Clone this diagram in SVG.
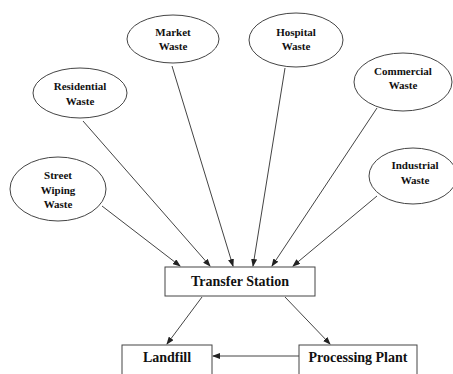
<svg xmlns="http://www.w3.org/2000/svg" width="453" height="374" viewBox="0 0 453 374">
<defs>
<marker id="ah" markerWidth="8" markerHeight="6" refX="7" refY="3" orient="auto" markerUnits="userSpaceOnUse">
<path d="M0,0 L8,3 L0,6 Z" fill="#222"/>
</marker>
<style>
.n{fill:#fff;stroke:#444;stroke-width:1}
.t{font-family:"Liberation Serif",serif;font-weight:bold;font-size:11px;fill:#111;text-anchor:middle}
.b{font-size:14px}
.c{stroke:#444;stroke-width:1;fill:none;marker-end:url(#ah)}
</style>
</defs>
<rect width="453" height="374" fill="#fff"/>
<g id="connectors">
<line class="c" x1="102" y1="206" x2="180" y2="266"/>
<line class="c" x1="83" y1="121" x2="210" y2="266"/>
<line class="c" x1="172" y1="66" x2="233" y2="266"/>
<line class="c" x1="285" y1="68" x2="253" y2="266"/>
<line class="c" x1="377" y1="108" x2="272" y2="266"/>
<line class="c" x1="377" y1="196" x2="293" y2="266"/>
<line class="c" x1="202" y1="297" x2="167" y2="344"/>
<line class="c" x1="285" y1="297" x2="330" y2="344"/>
<line class="c" x1="299" y1="356" x2="213" y2="356"/>
</g>
<g id="market"><ellipse class="n" cx="173" cy="39" rx="46" ry="24"/><text class="t" x="173" y="36">Market</text><text class="t" x="173" y="50">Waste</text></g>
<g id="residential"><ellipse class="n" cx="80" cy="93" rx="47" ry="25"/><text class="t" x="80" y="90">Residential</text><text class="t" x="80" y="105">Waste</text></g>
<g id="street"><ellipse class="n" cx="58" cy="189" rx="48" ry="32"/><text class="t" x="58" y="179">Street</text><text class="t" x="58" y="194">Wiping</text><text class="t" x="58" y="208">Waste</text></g>
<g id="hospital"><ellipse class="n" cx="296" cy="40" rx="47" ry="27"/><text class="t" x="296" y="36">Hospital</text><text class="t" x="296" y="50">Waste</text></g>
<g id="commercial"><ellipse class="n" cx="403" cy="82" rx="49" ry="29"/><text class="t" x="403" y="75">Commercial</text><text class="t" x="403" y="89">Waste</text></g>
<g id="industrial"><ellipse class="n" cx="413" cy="176" rx="44" ry="28"/><text class="t" x="415" y="169">Industrial</text><text class="t" x="415" y="184">Waste</text></g>
<g id="transfer"><rect class="n" x="165" y="267" width="150" height="29"/><text class="t b" x="240" y="286">Transfer Station</text></g>
<g id="landfill"><rect class="n" x="122" y="345" width="90" height="35"/><text class="t b" x="167" y="362">Landfill</text></g>
<g id="processing"><rect class="n" x="299" y="345" width="118" height="35"/><text class="t b" x="358" y="362">Processing Plant</text></g>
</svg>
